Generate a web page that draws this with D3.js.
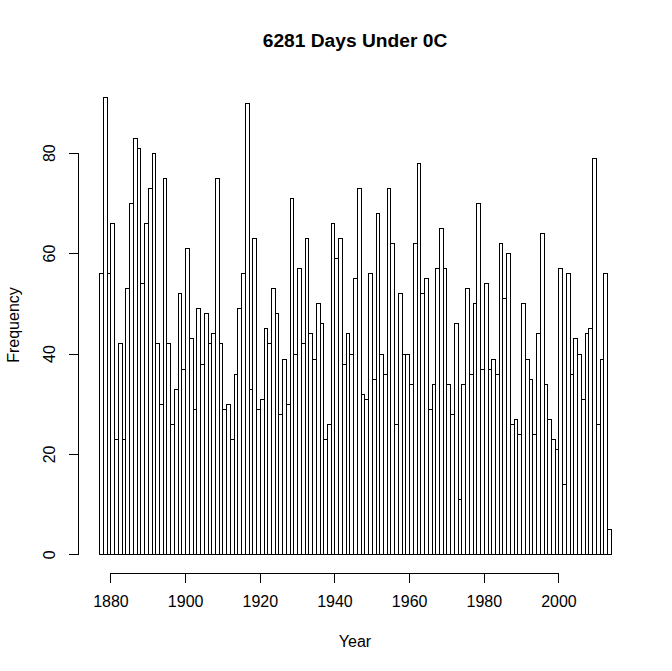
<!DOCTYPE html>
<html>
<head>
<meta charset="utf-8">
<script src="https://cdn.jsdelivr.net/npm/d3@7"></script>
<style>
  html, body { margin: 0; padding: 0; background: #fff; }
  svg { display: block; }
  text { font-family: Arial, "Liberation Sans", sans-serif; fill: #000; }
</style>
</head>
<body>
<svg id="chart" width="672" height="671"></svg>
<script>
// ---- data ----
const title = "6281 Days Under 0C";
const xLabel = "Year";
const yLabel = "Frequency";
const firstYear = 1877;
const counts = [
  56,91,56,66,23,42,23,53,70,83,81,54,66,73,80,42,30,75,42,26,33,52,37,
  61,43,29,49,38,48,42,44,75,42,29,30,23,36,49,56,90,33,63,29,31,45,42,
  53,48,28,39,30,71,40,57,42,63,44,39,50,46,23,26,66,59,63,38,44,40,55,
  73,32,31,56,35,68,40,36,73,62,26,52,40,40,34,62,78,52,55,29,34,57,65,
  57,34,28,46,11,34,53,36,50,70,37,54,37,39,36,62,51,60,26,27,24,50,
  39,35,24,44,64,34,27,23,21,57,14,56,36,43,40,31,44,45,79,26,39,56,5
];
const xTicks = [1880, 1900, 1920, 1940, 1960, 1980, 2000];
const yTicks = [0, 20, 40, 60, 80];

// ---- layout ----
const svg = d3.select("#chart");
const bins = counts.map((c, i) => ({ x0: firstYear + i, x1: firstYear + i + 1, n: c }));
const lastYear = firstYear + counts.length;
const pad = (lastYear - firstYear) * 0.04;

const x = d3.scaleLinear()
  .domain([firstYear - pad, lastYear + pad])
  .range([78.8, 631.2]);
const y = d3.scaleLinear()
  .domain([0, 80])
  .range([554.3, 152.7]);

const px = v => Math.round(v) + 0.5;

// bars
svg.append("g")
  .selectAll("rect")
  .data(bins)
  .join("rect")
  .attr("x", d => px(x(d.x0)))
  .attr("y", d => px(y(d.n)))
  .attr("width", d => Math.round(x(d.x1)) - Math.round(x(d.x0)))
  .attr("height", d => Math.round(y(0)) - Math.round(y(d.n)))
  .attr("fill", "#fff")
  .attr("stroke", "#000")
  .attr("stroke-width", 1)
  .attr("shape-rendering", "crispEdges");

// x axis
const xAxis = d3.axisBottom(x)
  .tickValues(xTicks)
  .tickFormat(d3.format("d"))
  .tickSize(9.6)
  .tickPadding(13);
const gx = svg.append("g")
  .attr("transform", "translate(0,573)")
  .call(xAxis);
gx.select(".domain")
  .attr("d", `M${px(x(xTicks[0]))},0.5H${px(x(xTicks[xTicks.length - 1]))}`)
  .attr("stroke", "#000")
  .attr("shape-rendering", "crispEdges");
gx.selectAll(".tick line").attr("stroke", "#000").attr("shape-rendering", "crispEdges");
gx.selectAll(".tick text")
  .attr("font-size", 16)
  .attr("font-family", "Arial, 'Liberation Sans', sans-serif")
  .attr("fill", "#000");

// y axis
const yAxis = d3.axisLeft(y)
  .tickValues(yTicks)
  .tickSize(9.6)
  .tickPadding(0);
const gy = svg.append("g")
  .attr("transform", "translate(79,0)")
  .call(yAxis);
gy.select(".domain")
  .attr("d", `M-0.5,${px(y(yTicks[0]))}V${px(y(yTicks[yTicks.length - 1]))}`)
  .attr("stroke", "#000")
  .attr("shape-rendering", "crispEdges");
gy.selectAll(".tick line").attr("stroke", "#000").attr("shape-rendering", "crispEdges");
gy.selectAll(".tick text")
  .attr("font-size", 16)
  .attr("font-family", "Arial, 'Liberation Sans', sans-serif")
  .attr("fill", "#000")
  .attr("x", null)
  .attr("dy", null)
  .attr("text-anchor", "middle")
  .attr("dominant-baseline", "central")
  .attr("transform", "translate(-30,0) rotate(-90)");

// title
svg.append("text")
  .attr("x", 355)
  .attr("y", 47)
  .attr("text-anchor", "middle")
  .attr("font-size", 19.2)
  .attr("font-weight", "bold")
  .text(title);

// axis labels
svg.append("text")
  .attr("x", 355)
  .attr("y", 647)
  .attr("text-anchor", "middle")
  .attr("font-size", 16)
  .text(xLabel);

svg.append("text")
  .attr("transform", "translate(19,325) rotate(-90)")
  .attr("text-anchor", "middle")
  .attr("font-size", 16)
  .text(yLabel);
</script>
</body>
</html>
